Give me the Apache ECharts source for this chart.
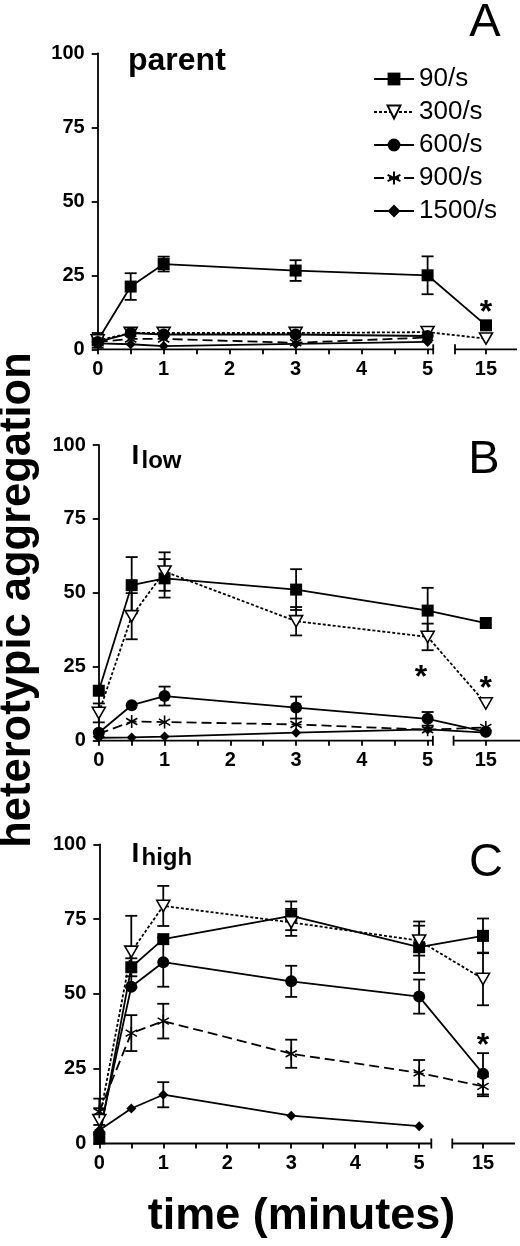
<!DOCTYPE html>
<html><head><meta charset="utf-8">
<script src="https://cdn.jsdelivr.net/npm/echarts@6/dist/echarts.min.js"></script>
<style>html,body{margin:0;padding:0;background:#fff}#c{width:520px;height:1246px}</style>
</head><body><div id="c"></div>
<script>
// ---------- data ----------
const times = [0, 0.5, 1, 3, 5, 15];
const rates = ['90/s', '300/s', '600/s', '900/s', '1500/s'];
const xTickValues = [0, 0.5, 1, 1.5, 2, 2.5, 3, 3.5, 4, 4.5, 5, 15];
const xLabelValues = [0, 1, 2, 3, 4, 5, 15];

// Panel A: parent
const parent_90 = [3.0, 21.2, 28.8, 26.6, 25.0, 8.1];
const parent_90_err = [2.5, 4.5, 2.5, 3.5, 6.4, 0];
const parent_300 = [3.0, 5.5, 5.5, 5.5, 5.8, 3.6];
const parent_300_err = [0, 0, 0, 0, 0, 0];
const parent_600 = [2.5, 5.5, 5.0, 5.0, 4.5, null];
const parent_600_err = [0, 0, 0, 0, 0, 0];
const parent_900 = [2.5, 3.5, 3.5, 2.2, 4.0, null];
const parent_900_err = [0, 0, 0, 0, 0, 0];
const parent_1500 = [2.0, 1.7, 1.1, 1.8, 2.5, null];
const parent_1500_err = [0, 0, 0, 0, 0, 0];
const parent_sig = [[15, 14.4]];

// Panel B: I low
const ilow_90 = [16.9, 52.6, 54.9, 51.1, 44.0, 39.8];
const ilow_90_err = [0, 9.5, 6.5, 6.9, 7.7, 0];
const ilow_300 = [9.4, 42.1, 57.2, 40.4, 35.1, 12.6];
const ilow_300_err = [3.2, 7.8, 6.5, 4.8, 4.5, 0];
const ilow_600 = [2.7, 12.0, 15.1, 11.2, 7.4, 3.0];
const ilow_600_err = [0, 0, 3.2, 3.7, 2.3, 0];
const ilow_900 = [2.3, 6.5, 6.3, 5.5, 3.7, 4.5];
const ilow_900_err = [0, 0, 0, 0, 0, 0];
const ilow_1500 = [1.0, 1.1, 1.4, 2.7, 3.8, 2.7];
const ilow_1500_err = [0, 0, 0, 0, 0, 0];
const ilow_sig = [[4.9, 23.3], [15, 19.4]];

// Panel C: I high
const ihigh_90 = [1.7, 58.9, 68.3, 76.1, 65.6, 69.4];
const ihigh_90_err = [0, 3, 0, 4.8, 8.6, 5.8];
const ihigh_300 = [7.8, 64.1, 79.4, 73.9, 67.8, 55.0];
const ihigh_300_err = [4, 12, 6.7, 4.5, 5, 8.8];
const ihigh_600 = [3.3, 52.4, 60.6, 54.2, 49.1, 23.3];
const ihigh_600_err = [0, 0, 8.2, 5.2, 5.7, 6.9];
const ihigh_900 = [10.6, 36.9, 40.9, 30.0, 23.6, 19.1];
const ihigh_900_err = [4.4, 6, 5.8, 4.7, 4.3, 3.3];
const ihigh_1500 = [4.4, 11.7, 16.3, 9.3, 5.8, null];
const ihigh_1500_err = [0, 0, 4.2, 0, 0, 0];
const ihigh_sig = [[15, 34.6]];

// ---------- assembly ----------
const panels = [
  { vals: [parent_90, parent_300, parent_600, parent_900, parent_1500],
    errs: [parent_90_err, parent_300_err, parent_600_err, parent_900_err, parent_1500_err], sig: parent_sig },
  { vals: [ilow_90, ilow_300, ilow_600, ilow_900, ilow_1500],
    errs: [ilow_90_err, ilow_300_err, ilow_600_err, ilow_900_err, ilow_1500_err], sig: ilow_sig },
  { vals: [ihigh_90, ihigh_300, ihigh_600, ihigh_900, ihigh_1500],
    errs: [ihigh_90_err, ihigh_300_err, ihigh_600_err, ihigh_900_err, ihigh_1500_err], sig: ihigh_sig }
];

// layout (pixels / axis extents)
const layouts = [
  { left: 97.7, width: 419.3, top: 53.3, height: 296.0, max: 15.47, bs: 5.085, be: 14.53, gap: 0.33 },
  { left: 98.8, width: 421.2, top: 445.0, height: 295.7, max: 15.52, bs: 5.08, be: 14.51, gap: 0.314 },
  { left: 99.3, width: 415.7, top: 844.3, height: 299.2, max: 15.50, bs: 5.19, be: 14.52, gap: 0.328 }
];

const FONT = '"Liberation Sans", Arial, Helvetica, sans-serif';
const LW = 1.8;
const triPath = 'path://M0,0 L10,0 L5,8.66 Z';
const starPath = 'path://M5,0 L5,10 M0.67,2.5 L9.33,7.5 M0.67,7.5 L9.33,2.5';
const styles = [
  { symbol: 'rect', size: 12, fill: '#000', dash: 'solid' },
  { symbol: triPath, size: 13, fill: '#fff', dash: [3, 2] },
  { symbol: 'circle', size: 12, fill: '#000', dash: 'solid' },
  { symbol: starPath, size: 13, fill: '#000', dash: [10, 5] },
  { symbol: 'diamond', size: 10, fill: '#000', dash: 'solid' }
];

function pairs(vals) {
  return times.map((t, i) => [t, vals[i]]).filter(p => p[1] != null);
}
function errItems(vals, errs) {
  return times.map((t, i) => [t, vals[i], errs[i]]).filter(p => p[1] != null && p[2] > 0);
}

const grids = [], xAxes = [], yAxes = [], series = [];
layouts.forEach((L, p) => {
  grids.push({ left: L.left, top: L.top, width: L.width, height: L.height, containLabel: false });
  xAxes.push({
    gridIndex: p, type: 'value', min: 0, max: L.max,
    breaks: [{ start: L.bs, end: L.be, gap: L.gap }],
    breakArea: { show: false },
    axisLine: { show: false },
    axisTick: { show: true, customValues: xTickValues, length: 5, lineStyle: { color: '#000', width: LW } },
    axisLabel: { customValues: xLabelValues, fontSize: 20, fontWeight: 'bold', fontFamily: FONT, color: '#000', margin: 10 },
    splitLine: { show: false }
  });
  yAxes.push({
    gridIndex: p, type: 'value', min: 0, max: 100, interval: 25,
    axisLine: { show: true, lineStyle: { color: '#000', width: LW } },
    axisTick: { show: true, length: 6, lineStyle: { color: '#000', width: LW } },
    axisLabel: { fontSize: 20, fontWeight: 'bold', fontFamily: FONT, color: '#000', margin: 13 },
    splitLine: { show: false }
  });

  // broken x axis line
  series.push({
    type: 'custom', xAxisIndex: p, yAxisIndex: p, z: 1, silent: true,
    data: [[0, L.bs, 0, 0], [L.be, L.max, 1, 0]],
    encode: { x: [0, 1], y: 3 },
    renderItem: function (params, api) {
      const a = api.coord([api.value(0), 0]);
      const b = api.coord([api.value(1), 0]);
      const cx = api.value(2) === 0 ? b[0] : a[0];
      const st = { stroke: '#000', lineWidth: LW };
      return { type: 'group', children: [
        { type: 'line', shape: { x1: a[0], y1: a[1], x2: b[0], y2: b[1] }, style: st },
        { type: 'line', shape: { x1: cx, y1: a[1] - 5, x2: cx, y2: a[1] + 5 }, style: st }
      ] };
    }
  });

  const P = panels[p];
  // error bars
  let eb = [];
  P.vals.forEach((v, k) => { eb = eb.concat(errItems(v, P.errs[k])); });
  series.push({
    type: 'custom', xAxisIndex: p, yAxisIndex: p, z: 1, silent: true,
    data: eb, encode: { x: 0, y: 1 },
    renderItem: function (params, api) {
      const x = api.value(0), y = api.value(1), e = api.value(2);
      const t = api.coord([x, y + e]);
      const b = api.coord([x, y - e]);
      const w = 6;
      const st = { stroke: '#000', lineWidth: LW };
      return { type: 'group', children: [
        { type: 'line', shape: { x1: t[0], y1: t[1], x2: b[0], y2: b[1] }, style: st },
        { type: 'line', shape: { x1: t[0] - w, y1: t[1], x2: t[0] + w, y2: t[1] }, style: st },
        { type: 'line', shape: { x1: b[0] - w, y1: b[1], x2: b[0] + w, y2: b[1] }, style: st }
      ] };
    }
  });

  // lines
  rates.forEach((name, k) => {
    const S = styles[k];
    series.push({
      type: 'line', name: name, xAxisIndex: p, yAxisIndex: p, z: 3,
      data: pairs(P.vals[k]),
      symbol: S.symbol, symbolSize: S.size, symbolKeepAspect: true, showAllSymbol: true,
      clip: false, animation: false,
      lineStyle: { color: '#000', width: LW, type: S.dash },
      itemStyle: { color: S.fill, borderColor: '#000', borderWidth: (k === 1 || k === 3) ? 1.6 : 0 },
      emphasis: { disabled: true }
    });
  });

  // significance asterisks
  series.push({
    type: 'custom', xAxisIndex: p, yAxisIndex: p, z: 4, silent: true,
    data: P.sig, encode: { x: 0, y: 1 },
    renderItem: function (params, api) {
      const c = api.coord([api.value(0), api.value(1)]);
      return { type: 'text', x: c[0], y: c[1] + 6, style: {
        text: '*', fill: '#000', fontSize: 32, fontWeight: 'bold', fontFamily: FONT,
        align: 'center', verticalAlign: 'middle' } };
    }
  });
});

function txt(x, y, text, size, weight, align, rot) {
  return { type: 'text', x: x, y: y, rotation: rot || 0, silent: true,
    style: { text: text, fill: '#000', fontSize: size, fontWeight: weight, fontFamily: FONT,
      align: align || 'left', verticalAlign: 'middle' } };
}

const graphic = [
  txt(485, 23.5, 'A', 47, 'normal', 'center'),
  txt(484, 460.5, 'B', 47, 'normal', 'center'),
  txt(486, 863.5, 'C', 47, 'normal', 'center'),
  txt(128, 61, 'parent', 32, 'bold', 'left'),
  txt(131.5, 456.3, 'I', 28, 'bold', 'left'),
  txt(141.5, 461.8, 'low', 24, 'bold', 'left'),
  txt(131.5, 854.3, 'I', 28, 'bold', 'left'),
  txt(141.5, 858.8, 'high', 24, 'bold', 'left'),
  txt(301.5, 1216.4, 'time (minutes)', 45, 'bold', 'center'),
  txt(18, 600, 'heterotypic aggregation', 43.5, 'bold', 'center', Math.PI / 2)
];

const chart = echarts.init(document.getElementById('c'), null, { renderer: 'canvas' });
chart.setOption({
  backgroundColor: '#fff',
  animation: false,
  grid: grids, xAxis: xAxes, yAxis: yAxes,
  legend: {
    orient: 'vertical', left: 368, top: 61, itemWidth: 40, itemHeight: 16, itemGap: 7,
    data: rates, selectedMode: false,
    textStyle: { fontSize: 26, fontFamily: FONT, color: '#000', lineHeight: 26 }
  },
  graphic: graphic,
  series: series
});
</script></body></html>
